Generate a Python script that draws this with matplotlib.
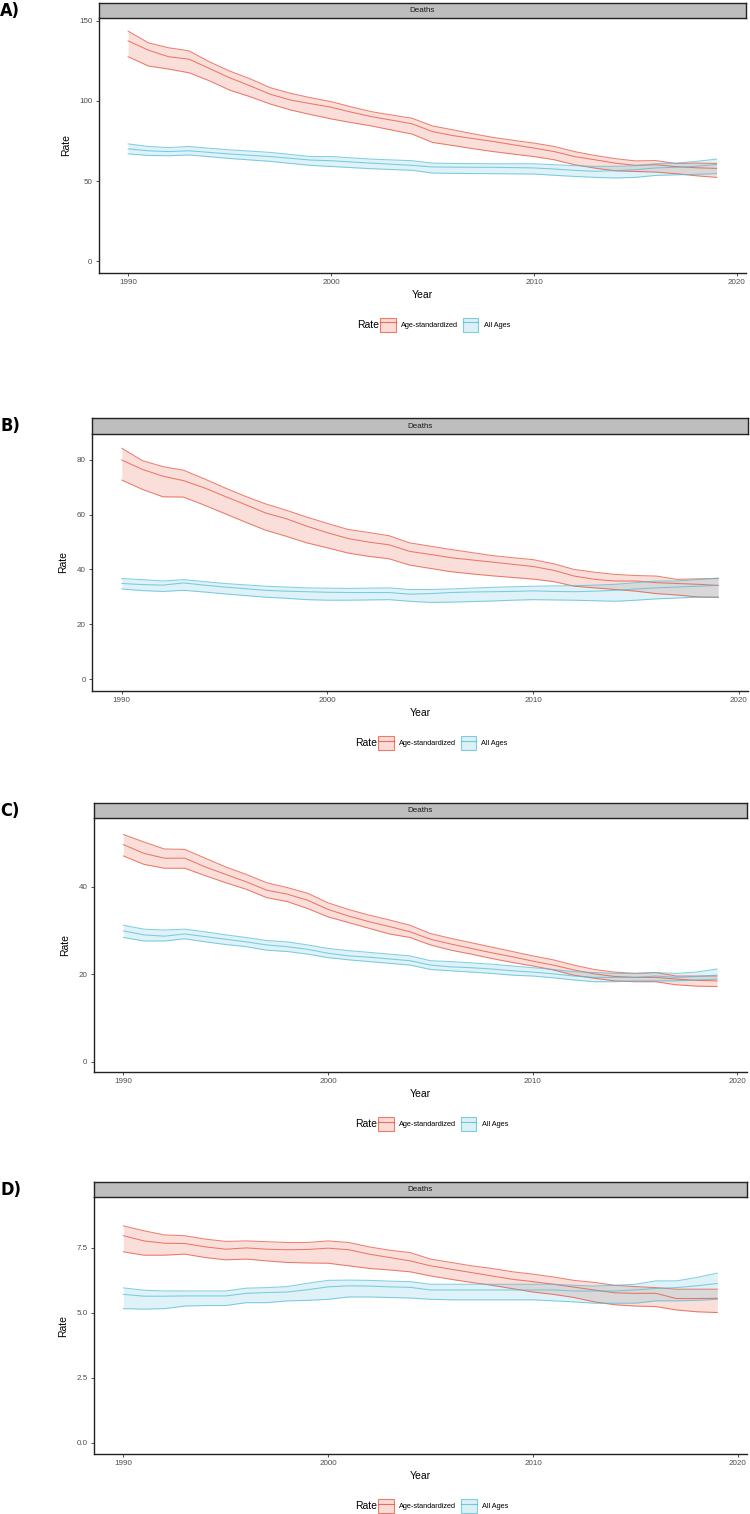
import matplotlib
matplotlib.use("Agg")
import matplotlib.pyplot as plt
from matplotlib.patches import Patch
from matplotlib.lines import Line2D
from matplotlib.colors import to_rgba

plt.rcParams['font.family'] = ['Liberation Sans', 'DejaVu Sans']

years = list(range(1990, 2020))

# A) -----------------------------------------------------------------
a_std_up = [143.6, 136.3, 133.2, 131.3, 124.5, 118.7, 113.9, 108.3, 104.8, 102.0,
            99.6, 96.3, 93.3, 91.2, 89.2, 84.4, 82.0, 79.5, 77.2, 75.4,
            73.7, 71.6, 68.4, 66.0, 64.0, 62.6, 62.8, 61.0, 61.2, 61.0]
a_std_mid = [137.5, 131.7, 127.6, 126.1, 120.3, 114.5, 109.5, 104.2, 100.6, 98.3,
             96.1, 93.0, 90.2, 88.0, 85.7, 80.9, 78.4, 76.5, 74.7, 72.6,
             70.6, 68.4, 65.3, 63.3, 61.2, 59.8, 60.2, 59.0, 58.3, 57.9]
a_std_lo = [127.6, 121.8, 119.9, 117.6, 112.6, 106.8, 102.7, 98.1, 94.4, 91.5,
            88.8, 86.5, 84.4, 81.8, 79.3, 74.1, 72.2, 70.2, 68.4, 66.8,
            65.3, 63.3, 60.2, 58.1, 56.4, 56.0, 55.6, 54.6, 53.3, 52.3]
a_all_up = [73.2, 71.6, 70.9, 71.6, 70.5, 69.5, 68.7, 67.9, 66.6, 65.3,
            65.3, 64.5, 63.7, 63.2, 62.7, 61.2, 61.0, 60.9, 60.8, 60.8,
            60.8, 60.2, 59.6, 59.2, 59.2, 59.6, 60.8, 61.2, 62.3, 63.7]
a_all_mid = [70.1, 68.9, 68.4, 68.9, 67.9, 66.9, 66.1, 65.3, 64.2, 63.1,
             62.7, 61.9, 61.2, 60.5, 59.8, 58.8, 58.7, 58.6, 58.6, 58.4,
             58.2, 57.5, 56.7, 56.1, 56.5, 57.1, 58.2, 58.6, 59.2, 60.4]
a_all_lo = [67.0, 66.0, 65.8, 66.3, 65.2, 64.1, 63.2, 62.3, 61.0, 59.8,
            59.1, 58.4, 57.7, 57.2, 56.7, 55.0, 54.8, 54.7, 54.6, 54.5,
            54.4, 53.6, 52.9, 52.3, 51.9, 52.3, 53.5, 53.9, 54.2, 54.6]

# B) -----------------------------------------------------------------
b_std_up = [84.2, 79.7, 77.5, 76.2, 73.1, 69.8, 66.7, 63.9, 61.6, 59.1,
            56.8, 54.6, 53.5, 52.3, 49.7, 48.5, 47.3, 46.2, 45.1, 44.3,
            43.6, 42.1, 40.0, 39.0, 38.2, 37.8, 37.6, 36.4, 36.6, 36.7]
b_std_mid = [79.9, 76.5, 74.0, 72.4, 69.8, 66.7, 63.7, 60.6, 58.5, 55.8,
             53.4, 51.3, 50.0, 49.0, 46.6, 45.5, 44.3, 43.5, 42.7, 41.9,
             41.1, 39.7, 37.6, 36.4, 35.8, 35.8, 35.2, 34.9, 34.6, 34.2]
b_std_lo = [72.6, 69.2, 66.5, 66.4, 63.5, 60.4, 57.3, 54.3, 52.1, 49.7,
            47.9, 46.0, 44.8, 43.9, 41.6, 40.4, 39.2, 38.4, 37.7, 37.1,
            36.5, 35.6, 33.9, 33.3, 32.7, 32.1, 31.2, 30.7, 30.0, 29.8]
b_all_up = [36.7, 36.3, 35.8, 36.3, 35.6, 34.9, 34.4, 33.9, 33.6, 33.3,
            33.2, 33.1, 33.2, 33.3, 32.7, 32.7, 32.9, 33.2, 33.5, 33.7,
            33.9, 34.0, 34.1, 34.3, 34.6, 35.2, 35.8, 35.8, 36.3, 36.9]
b_all_mid = [34.9, 34.5, 34.3, 35.1, 34.3, 33.6, 33.0, 32.4, 32.1, 31.9,
             31.7, 31.6, 31.6, 31.6, 31.0, 31.2, 31.6, 31.8, 31.9, 32.0,
             32.2, 32.0, 31.9, 32.1, 32.4, 32.9, 33.3, 33.6, 33.9, 34.2]
b_all_lo = [32.9, 32.3, 32.0, 32.4, 31.8, 31.1, 30.5, 29.9, 29.5, 29.0,
            28.8, 28.8, 28.9, 29.0, 28.4, 28.0, 28.1, 28.3, 28.5, 28.8,
            29.0, 28.9, 28.8, 28.6, 28.4, 28.8, 29.3, 29.6, 29.9, 30.0]

# C) -----------------------------------------------------------------
c_std_up = [51.9, 50.2, 48.6, 48.5, 46.5, 44.5, 42.8, 40.9, 39.8, 38.5,
            36.3, 34.8, 33.5, 32.4, 31.2, 29.3, 28.2, 27.2, 26.2, 25.2,
            24.2, 23.3, 22.1, 21.1, 20.5, 20.2, 20.4, 19.6, 19.6, 19.6]
c_std_mid = [49.6, 47.6, 46.5, 46.5, 44.5, 42.8, 41.1, 39.2, 38.3, 36.9,
             34.8, 33.3, 32.0, 30.9, 29.7, 28.0, 26.9, 25.9, 24.9, 24.0,
             23.0, 22.1, 21.0, 20.1, 19.5, 19.3, 19.3, 18.9, 18.6, 18.5]
c_std_lo = [47.0, 45.1, 44.2, 44.2, 42.5, 40.9, 39.4, 37.5, 36.6, 35.0,
            33.1, 31.8, 30.5, 29.2, 28.4, 26.7, 25.5, 24.6, 23.6, 22.7,
            21.9, 21.0, 19.8, 19.1, 18.5, 18.3, 18.3, 17.6, 17.3, 17.2]
c_all_up = [31.2, 30.3, 30.1, 30.3, 29.7, 29.0, 28.4, 27.7, 27.4, 26.7,
            25.9, 25.4, 25.0, 24.6, 24.2, 23.1, 22.9, 22.6, 22.3, 21.9,
            21.5, 21.1, 20.6, 20.4, 20.2, 20.2, 20.4, 20.2, 20.5, 21.2]
c_all_mid = [29.9, 29.0, 28.7, 29.2, 28.6, 28.0, 27.4, 26.7, 26.3, 25.7,
             24.8, 24.2, 23.9, 23.5, 23.1, 22.1, 21.7, 21.5, 21.2, 20.8,
             20.5, 20.1, 19.6, 19.3, 19.3, 19.3, 19.6, 19.3, 19.5, 19.8]
c_all_lo = [28.4, 27.6, 27.6, 28.1, 27.4, 26.8, 26.3, 25.5, 25.2, 24.6,
            23.8, 23.3, 22.9, 22.5, 22.1, 21.1, 20.8, 20.5, 20.2, 19.8,
            19.6, 19.2, 18.7, 18.3, 18.3, 18.5, 18.5, 18.5, 18.7, 18.9]

# D) -----------------------------------------------------------------
d_std_up = [8.35, 8.16, 8.00, 7.97, 7.84, 7.75, 7.77, 7.74, 7.71, 7.71,
            7.77, 7.71, 7.54, 7.41, 7.32, 7.07, 6.94, 6.81, 6.71, 6.58,
            6.49, 6.38, 6.25, 6.17, 6.06, 6.01, 5.97, 5.91, 5.91, 5.91]
d_std_mid = [7.97, 7.77, 7.68, 7.67, 7.54, 7.45, 7.50, 7.45, 7.43, 7.44,
             7.49, 7.43, 7.26, 7.13, 7.00, 6.81, 6.68, 6.55, 6.42, 6.29,
             6.20, 6.10, 5.99, 5.88, 5.77, 5.75, 5.75, 5.55, 5.55, 5.56]
d_std_lo = [7.35, 7.22, 7.22, 7.26, 7.13, 7.04, 7.07, 7.00, 6.94, 6.92,
            6.91, 6.81, 6.71, 6.65, 6.58, 6.42, 6.29, 6.17, 6.06, 5.93,
            5.80, 5.71, 5.59, 5.42, 5.31, 5.26, 5.24, 5.11, 5.04, 5.01]
d_all_up = [5.96, 5.87, 5.84, 5.84, 5.84, 5.84, 5.95, 5.97, 6.01, 6.14,
            6.25, 6.26, 6.25, 6.22, 6.20, 6.10, 6.10, 6.10, 6.10, 6.10,
            6.10, 6.10, 6.06, 6.03, 6.06, 6.10, 6.23, 6.23, 6.36, 6.53]
d_all_mid = [5.71, 5.64, 5.64, 5.65, 5.65, 5.65, 5.75, 5.78, 5.80, 5.89,
             6.00, 6.04, 6.03, 6.00, 5.98, 5.88, 5.88, 5.88, 5.88, 5.88,
             5.88, 5.88, 5.84, 5.84, 5.84, 5.88, 5.94, 5.97, 6.04, 6.13]
d_all_lo = [5.16, 5.14, 5.16, 5.26, 5.28, 5.28, 5.39, 5.39, 5.46, 5.48,
            5.52, 5.61, 5.61, 5.59, 5.57, 5.52, 5.50, 5.50, 5.50, 5.50,
            5.50, 5.46, 5.42, 5.37, 5.37, 5.37, 5.46, 5.46, 5.48, 5.52]

panel_letters = ['A)', 'B)', 'C)', 'D)']
y_ticks = [[0, 50, 100, 150], [0, 20, 40, 60, 80], [0, 20, 40],
           [0.0, 2.5, 5.0, 7.5]]
y_ticklabels = [['0', '50', '100', '150'], ['0', '20', '40', '60', '80'],
                ['0', '20', '40'], ['0.0', '2.5', '5.0', '7.5']]
x_ticks = [1990, 2000, 2010, 2020]
series_names = ['Age-standardized', 'All Ages']

panels = [
    ((a_std_lo, a_std_mid, a_std_up), (a_all_lo, a_all_mid, a_all_up)),
    ((b_std_lo, b_std_mid, b_std_up), (b_all_lo, b_all_mid, b_all_up)),
    ((c_std_lo, c_std_mid, c_std_up), (c_all_lo, c_all_mid, c_all_up)),
    ((d_std_lo, d_std_mid, d_std_up), (d_all_lo, d_all_mid, d_all_up)),
]

# layout in pixels: axes (left, top, right, bottom), strip height, y-limits
W, H = 750, 1514
boxes = [(98.7, 18.3, 746, 272.7), (92, 434, 748, 691),
         (93.7, 818.3, 746.7, 1072), (93.7, 1197.3, 747, 1454)]
strip_h = 15.6
ylims = [(-7.2, 151.6), (-4.3, 89.4), (-2.3, 55.6), (-0.44, 9.45)]

red = '#E64B35'
blue = '#4DBBD5'
colors = [red, blue]

fig = plt.figure(figsize=(W / 100, H / 100), dpi=100)


def rect(x0, y0, x1, y1):
    return [x0 / W, 1 - y1 / H, (x1 - x0) / W, (y1 - y0) / H]


legends = []
for i, (series, box) in enumerate(zip(panels, boxes)):
    x0, y0, x1, y1 = box
    ax = fig.add_axes(rect(x0, y0, x1, y1))
    for (lo, mid, up), c in zip(series, colors):
        ax.fill_between(years, lo, up, color=c, alpha=0.18, lw=0)
        for s in (lo, mid, up):
            ax.plot(years, s, color=c, lw=0.75, alpha=0.7)

    ax.set_xlim(1988.55, 2020.45)
    ax.set_ylim(*ylims[i])
    ax.set_xticks(x_ticks)
    ax.set_yticks(y_ticks[i])
    ax.set_yticklabels(y_ticklabels[i])
    for side in ('top', 'right'):
        ax.spines[side].set_visible(False)
    for side in ('left', 'bottom'):
        ax.spines[side].set_linewidth(1.0)
        ax.spines[side].set_color('#222222')
    ax.tick_params(length=2.5, width=0.6, colors='#333333', labelsize=5.8,
                   labelcolor='#4D4D4D', pad=2)
    ax.set_xlabel('Year', fontsize=7.5, labelpad=3)
    ax.set_ylabel('Rate', fontsize=7.5, labelpad=6)

    # facet strip
    sax = fig.add_axes(rect(x0, y0 - strip_h, x1, y0))
    sax.set_facecolor('#BEBEBE')
    sax.set_xticks([])
    sax.set_yticks([])
    for sp in sax.spines.values():
        sp.set_linewidth(1.0)
        sp.set_color('#222222')
    sax.text(0.5, 0.5, 'Deaths', ha='center', va='center', fontsize=5.8,
             color='#1A1A1A', transform=sax.transAxes)

    fig.text(0.0, 1 - (y0 - strip_h - 1) / H, panel_letters[i], ha='left',
             va='top', fontsize=13, fontweight='bold',
             family='DejaVu Sans', fontstretch='condensed')

    handles = [(Patch(facecolor=to_rgba(c, 0.2), edgecolor=to_rgba(c, 0.7),
                      lw=0.8),
                Line2D([], [], color=c, lw=0.8, alpha=0.75)) for c in colors]
    leg = ax.legend(handles, series_names, loc='center',
                    bbox_to_anchor=(0.535, -52 / (y1 - y0)), ncol=2,
                    frameon=False, fontsize=5.3, handlelength=2.1,
                    handleheight=2.6, handletextpad=0.7, columnspacing=0.7)
    legends.append(leg)

fig.canvas.draw()
for leg in legends:
    bb = leg.get_window_extent()
    fig.text((bb.x0 + 2) / W, (bb.y0 + bb.y1) / 2 / H, 'Rate', ha='right',
             va='center', fontsize=7.5)

fig.savefig('out.png', dpi=100, facecolor='white')
